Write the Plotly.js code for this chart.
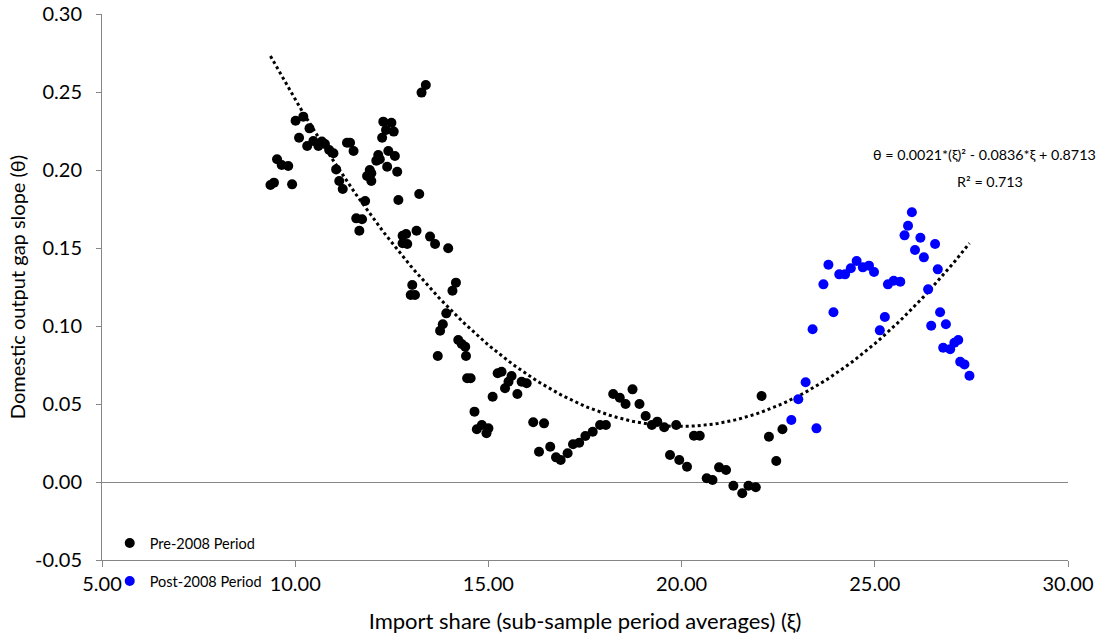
<!DOCTYPE html>
<html>
<head>
<meta charset="utf-8">
<script src="https://cdn.plot.ly/plotly-3.0.1.min.js"></script>
<style>html,body{margin:0;padding:0;background:#fff;}#chart{width:1110px;height:636px;}</style>
</head>
<body>
<div id="chart"></div>
<script>
// Pre-2008 period: import share (xi) and output gap slope (theta)
const preX = [13.38,13.27,10.01,10.21,10.37,10.10,10.31,10.47,10.60,10.69,10.77,10.88,10.99,11.06,11.14,11.23,11.81,11.58,11.73,11.66,
  9.53,9.65,9.82,9.36,9.45,9.92,11.34,11.42,11.51,12.28,12.49,12.35,12.55,12.25,12.41,12.58,12.15,12.10,12.19,12.38,
  12.64,11.93,11.97,11.86,11.97,13.21,12.67,12.78,12.87,13.14,12.78,12.90,13.49,13.62,13.96,
  13.03,12.99,13.10,14.16,14.07,13.91,13.82,13.75,13.69,14.22,14.31,14.40,14.42,14.45,14.54,15.11,14.64,
  14.70,14.83,15.00,14.95,
  15.24,15.34,15.43,15.52,15.60,15.75,15.86,15.99,16.16,16.44,16.31,16.60,16.75,16.87,17.05,17.19,17.35,17.51,17.70,17.89,
  18.04,18.23,18.40,18.55,18.73,18.91,19.07,19.23,19.37,19.55,19.70,19.86,19.94,
  20.14,20.32,20.47,20.65,20.80,20.97,21.15,21.34,21.57,21.73,21.92,22.07,22.26,22.45,22.61];
const preY = [0.2545,0.2496,0.2316,0.2342,0.2267,0.2207,0.2154,0.2186,0.2154,0.2182,0.2167,0.2128,0.2107,0.2004,0.1929,0.1878,0.1801,0.1690,0.1684,0.1611,
  0.2069,0.2032,0.2026,0.1904,0.1919,0.1908,0.2175,0.2175,0.2122,0.2310,0.2303,0.2256,0.2246,0.2207,0.2122,0.2090,0.2096,0.2060,0.2069,0.2021,
  0.1989,0.2000,0.1979,0.1962,0.1929,0.1846,0.1808,0.1579,0.1590,0.1611,0.1530,0.1526,0.1573,0.1526,0.1498,
  0.1263,0.1199,0.1199,0.1278,0.1226,0.1081,0.1011,0.0970,0.0808,0.0910,0.0885,0.0867,0.0808,0.0665,0.0665,0.0547,0.0451,
  0.0338,0.0365,0.0344,0.0312,
  0.0697,0.0707,0.0601,0.0643,0.0679,0.0564,0.0643,0.0633,0.0383,0.0376,0.0194,0.0226,0.0158,0.0141,0.0184,0.0242,0.0252,0.0295,0.0322,0.0365,
  0.0365,0.0564,0.0540,0.0500,0.0594,0.0500,0.0423,0.0365,0.0387,0.0351,0.0173,0.0365,0.0141,
  0.0098,0.0297,0.0297,0.0024,0.0013,0.0094,0.0077,-0.0024,-0.0072,-0.0024,-0.0034,0.0551,0.0290,0.0135,0.0338];

// Post-2008 period
const postX = [22.84,23.02,23.21,23.49,23.39,23.93,23.67,23.80,24.08,24.23,24.38,24.53,24.69,24.85,24.98,25.26,25.13,25.34,25.49,25.66,
  25.96,25.86,25.77,26.18,26.04,26.27,26.56,26.63,26.38,26.69,26.46,26.84,26.77,26.95,27.06,27.16,27.21,27.32,27.45];
const postY = [0.0397,0.0530,0.0639,0.0344,0.0979,0.1088,0.1267,0.1393,0.1331,0.1331,0.1370,0.1417,0.1376,0.1387,0.1346,0.1058,0.0972,0.1267,0.1290,0.1284,
  0.1729,0.1643,0.1581,0.1566,0.1487,0.1440,0.1526,0.1363,0.1235,0.1088,0.1002,0.1011,0.0861,0.0851,0.0893,0.0910,0.0771,0.0754,0.0681];

const seriesNames = ["Pre-2008 Period", "Post-2008 Period"];
const xTickVals = [5, 10, 15, 20, 25, 30];
const xTickLabels = ["5.00", "10.00", "15.00", "20.00", "25.00", "30.00"];
const yTickVals = [-0.05, 0, 0.05, 0.10, 0.15, 0.20, 0.25, 0.30];
const yTickLabels = ["-0.05", "0.00", "0.05", "0.10", "0.15", "0.20", "0.25", "0.30"];
const equationText = "θ = 0.0021*(ξ)² - 0.0836*ξ + 0.8713";
const r2Text = "R² = 0.713";

// Quadratic least-squares trend over all points (as the chart's polynomial trendline)
const allX = preX.concat(postX), allY = preY.concat(postY);
function quadFit(xs, ys) {
  let S = [0,0,0,0,0], T = [0,0,0];
  for (let i = 0; i < xs.length; i++) {
    let p = 1;
    for (let k = 0; k < 5; k++) { S[k] += p; if (k < 3) T[k] += p * ys[i]; p *= xs[i]; }
  }
  const A = [[S[0],S[1],S[2],T[0]],[S[1],S[2],S[3],T[1]],[S[2],S[3],S[4],T[2]]];
  for (let c = 0; c < 3; c++) {
    for (let r = c + 1; r < 3; r++) {
      const f = A[r][c] / A[c][c];
      for (let k = c; k < 4; k++) A[r][k] -= f * A[c][k];
    }
  }
  const b = [0,0,0];
  for (let r = 2; r >= 0; r--) {
    let s = A[r][3];
    for (let k = r + 1; k < 3; k++) s -= A[r][k] * b[k];
    b[r] = s / A[r][r];
  }
  return b;
}
const coef = quadFit(allX, allY);
const xmin = Math.min(...allX), xmax = Math.max(...allX);
const trendX = [], trendY = [];
for (let i = 0; i <= 200; i++) {
  const x = xmin + (xmax - xmin) * i / 200;
  trendX.push(x); trendY.push(coef[0] + coef[1] * x + coef[2] * x * x);
}

const FONT = "Lato, 'Open Sans', sans-serif";
const GRAY = "#868686";

const data = [
  {x: trendX, y: trendY, type: "scatter", mode: "lines", showlegend: false, hoverinfo: "skip",
   line: {color: "#000000", width: 3, dash: "dot"}},
  {x: preX, y: preY, type: "scatter", mode: "markers", name: seriesNames[0], legend: "legend",
   marker: {color: "#000000", size: 10}},
  {x: postX, y: postY, type: "scatter", mode: "markers", name: seriesNames[1], legend: "legend2",
   marker: {color: "#0000FF", size: 10}}
];

const layout = {
  width: 1110, height: 636,
  margin: {l: 102, r: 42, t: 14, b: 76},
  paper_bgcolor: "#ffffff", plot_bgcolor: "#ffffff",
  font: {family: FONT, color: "#000000"},
  xaxis: {
    range: [5, 30], tickvals: xTickVals, ticktext: xTickLabels,
    showgrid: false, zeroline: false, showline: true, linecolor: GRAY, linewidth: 1,
    ticks: "outside", ticklen: 6, tickcolor: GRAY,
    tickfont: {family: FONT, size: 20, color: "#000"},
    title: {text: "Import share (sub-sample period averages) (ξ)", font: {family: FONT, size: 22, color: "#000"}, standoff: 19}
  },
  yaxis: {
    range: [-0.05, 0.30], tickvals: yTickVals, ticktext: yTickLabels,
    showgrid: false, zeroline: true, zerolinecolor: GRAY, zerolinewidth: 1,
    showline: true, linecolor: GRAY, linewidth: 1,
    ticks: "outside", ticklen: 5, tickcolor: GRAY, ticklabelstandoff: 10,
    tickfont: {family: FONT, size: 20, color: "#000"},
    title: {text: "Domestic output gap slope (θ)", font: {family: FONT, size: 20, color: "#000"}, standoff: 4}
  },
  showlegend: true,
  legend: {x: 0.008, y: 0.031, xanchor: "left", yanchor: "middle", bgcolor: "rgba(0,0,0,0)",
           font: {family: FONT, size: 14.5, color: "#000"}},
  legend2: {x: 0.008, y: -0.0385, xanchor: "left", yanchor: "middle", bgcolor: "rgba(0,0,0,0)",
            font: {family: FONT, size: 14.5, color: "#000"}},
  annotations: [
    {xref: "paper", yref: "paper", x: 0.914, y: 0.742, text: equationText, showarrow: false,
     xanchor: "center", yanchor: "middle", font: {family: FONT, size: 14.3, color: "#000"}},
    {xref: "paper", yref: "paper", x: 0.919, y: 0.694, text: r2Text, showarrow: false,
     xanchor: "center", yanchor: "middle", font: {family: FONT, size: 14.3, color: "#000"}}
  ]
};

Plotly.newPlot("chart", data, layout, {displayModeBar: false, staticPlot: true});
</script>
</body>
</html>
